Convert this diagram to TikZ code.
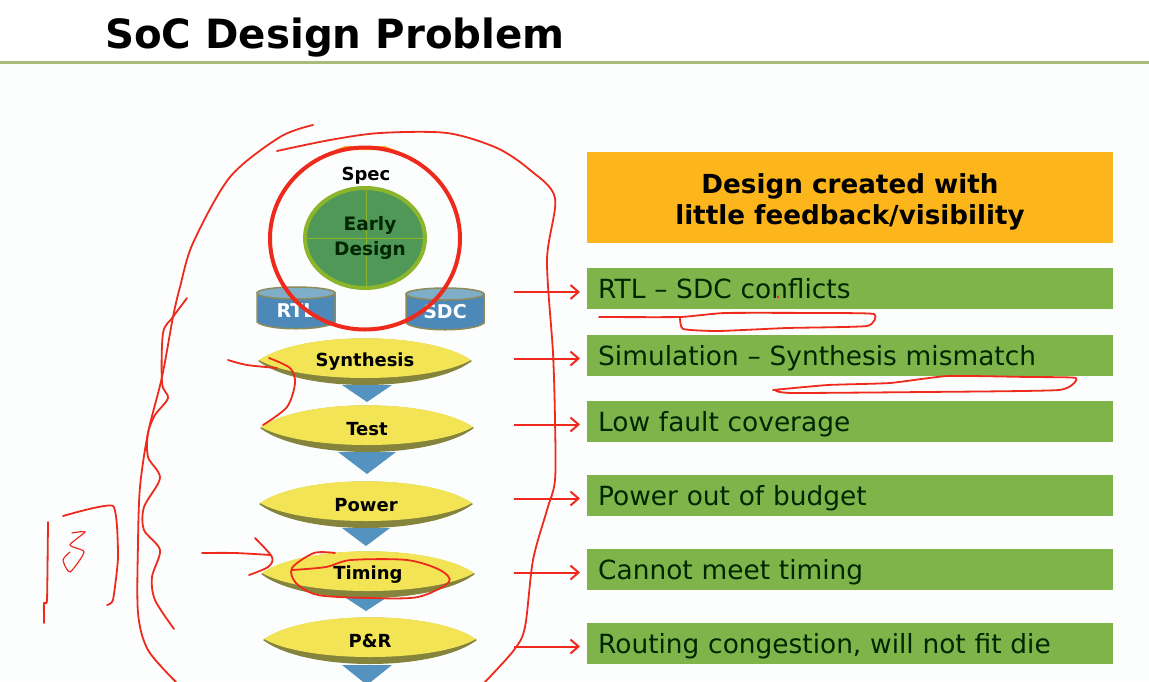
\documentclass[tikz,border=0pt]{standalone}
\usepackage{fontspec}
\setmainfont{DejaVu Sans}
\usetikzlibrary{arrows.meta}

\definecolor{pagetint}{HTML}{FCFEFD}
\definecolor{rulegreen}{HTML}{A9BC7C}
\definecolor{rowgreen}{HTML}{7FB44B}
\definecolor{bannerorange}{HTML}{FDB51C}
\definecolor{lensyellow}{HTML}{F3E455}
\definecolor{lensedge}{HTML}{85843C}
\definecolor{dropblue}{HTML}{5493BF}
\definecolor{canblue}{HTML}{4D89B8}
\definecolor{cantop}{HTML}{7FAEC8}
\definecolor{canedge}{HTML}{8D8A5C}
\definecolor{earlyfill}{HTML}{4F9858}
\definecolor{earlyedge}{HTML}{8DB52C}
\definecolor{inkred}{HTML}{EE2A1C}

\tikzset{
  rowbox/.style={fill=rowgreen, anchor=west, minimum height=41pt, text width=504pt,
    inner xsep=11pt, inner ysep=0pt, align=left, font=\fontsize{26.4}{30}\selectfont, text=black!85!green},
  stagelabel/.style={font=\bfseries\fontsize{18}{22}\selectfont, text=black},
  inkline/.style={draw=inkred, line width=1.8pt, line cap=round, line join=round},
  inkarrow/.style={draw=inkred, line width=2pt, -{Straight Barb[length=8pt,width=14pt]}, shorten >=7pt}
}

% lens with its olive lower rim and a label: name, x, y, half width, text
\newcommand{\stagelens}[5]{
  \fill[lensedge] (#2-#4,#3) .. controls (#2-#4*0.6,#3-30) and (#2+#4*0.6,#3-30) .. (#2+#4,#3)
    .. controls (#2+#4*0.6,#3+32) and (#2-#4*0.6,#3+32) .. (#2-#4,#3) -- cycle;
  \fill[lensyellow] (#2-#4+1,#3-1) .. controls (#2-#4*0.6,#3-30) and (#2+#4*0.6,#3-30) .. (#2+#4-1,#3-1)
    .. controls (#2+#4*0.6,#3+23) and (#2-#4*0.6,#3+23) .. (#2-#4+1,#3-1) -- cycle;
  \node[stagelabel] (#1) at (#2,#3+1) {#5};
}

% database can: name, left x, top y, text
\newcommand{\datacan}[4]{
  \draw[fill=canblue, draw=canedge, line width=1.5pt] (#2,#3+7) -- (#2,#3+36)
    .. controls (#2+10,#3+45) and (#2+68,#3+45) .. (#2+78,#3+36) -- (#2+78,#3+7) -- cycle;
  \draw[fill=cantop, draw=canedge, line width=1.5pt] (#2+39,#3+7) ellipse [x radius=39, y radius=6];
  \node[font=\bfseries\fontsize{19}{22}\selectfont, text=white] (#1) at (#2+39,#3+25) {#4};
}

\begin{document}
\begin{tikzpicture}[x=1pt, y=-1pt]
  \useasboundingbox (0,0) rectangle (1149,681);
  \fill[pagetint] (0,0) rectangle (1149,681);
  \fill[white] (0,0) rectangle (1149,61);

  % title and rule
  \node[anchor=base west, inner sep=0pt, font=\bfseries\fontsize{40.3}{46}\selectfont] (title) at (105,48) {SoC Design Problem};
  \draw[rulegreen, line width=3pt] (0,62) -- (1149,62);

  % banner
  \node[fill=bannerorange, minimum width=526pt, minimum height=91pt, inner sep=0pt, align=center,
    font=\bfseries\fontsize{26.2}{31}\selectfont] (banner) at (850,197.5) {\rule{0pt}{29pt}Design created with\\little feedback/visibility};

  % right hand rows and their arrows
  \foreach \rowname/\rowy/\rowtext in {rowRtl/288.5/{RTL – SDC conflicts},
      rowSim/355/{Simulation – Synthesis mismatch}, rowFault/421/{Low fault coverage},
      rowPower/495/{Power out of budget}, rowTiming/569/{Cannot meet timing},
      rowRoute/643/{Routing congestion, will not fit die}} {
    \node[rowbox] (\rowname) at (587,\rowy) {\rule[-6pt]{0pt}{32pt}\rowtext};
    \coordinate (from\rowname) at (514,\rowy+3.5);
    \draw[inkarrow] (from\rowname) -- (from\rowname -| \rowname.west);
  }

  % spec and early design
  \node[stagelabel] (spec) at (366,176) {Spec};
  \fill[bannerorange] (335,150) -- (395,150) -- (385,146) -- (345,146) -- cycle;
  \draw[fill=earlyfill, draw=earlyedge, line width=4pt] (365,238) ellipse [x radius=60, y radius=50];
  \draw[earlyedge, line width=0.8pt] (305,238) -- (425,238) (366,188) -- (366,288);
  \node[stagelabel, align=center, font=\fontsize{18.5}{25}\selectfont\bfseries, text=black!85!green] (early) at (370,238) {Early\\Design};

  \datacan{canRtl}{257}{286}{RTL}
  \datacan{canSdc}{406}{287}{SDC}

  % drops under the lenses
  \foreach \dropx/\droptop/\dropw/\droph in {367/385/25/17, 367/452/29/22, 366/528/24/18, 366/598/20/13, 367/665/25/20} {
    \fill[dropblue] (\dropx-\dropw,\droptop) -- (\dropx+\dropw,\droptop) -- (\dropx,\droptop+\droph) -- cycle;
  }

  \stagelens{lensSynth}{365}{361}{107}{Synthesis}
  \stagelens{lensTest}{367}{428}{107}{Test}
  \stagelens{lensPower}{366}{504}{107}{Power}
  \stagelens{lensTiming}{368}{574}{107}{Timing}
  \stagelens{lensRoute}{370}{640}{107}{P\&R}

  % pen strokes on top
  \draw[inkred, line width=4pt] (365,238.5) ellipse [x radius=95, y radius=91];
  \draw[inkline] plot[smooth] coordinates {(277,151) (330,140) (380,133) (447,133) (497,148) (530,170) (555,198)
    (547,260) (553,353) (555,420) (555,480) (547,510) (533,560) (525,627) (514,650) (485,682)};
  \draw[inkline] plot[smooth] coordinates {(313,125) (280,137) (230,177) (193,243) (180,287) (173,317) (162,377)
    (148,433) (140,487) (138,543) (138,613) (148,650) (176,682)};
  \draw[inkline] plot[smooth, tension=0.5] coordinates {(187,298) (173,317) (163,333) (162,383) (168,398) (155,415)
    (148,433) (148,457) (160,478) (144,507) (144,530) (160,550) (152,577) (155,600) (174,629)};
  \draw[inkline] plot[smooth] coordinates {(228,360) (247,365) (277,368)};
  \draw[inkline] plot[smooth] coordinates {(269,358) (290,368) (295,383) (287,407) (263,425)};
  \draw[inkline] plot[smooth] coordinates {(202,553) (235,553) (270,555)};
  \draw[inkline] plot[smooth] coordinates {(255,538) (272,557) (268,567) (249,575)};
  \draw[inkline] plot[smooth] coordinates {(335,553) (314,553) (292,568) (296,583) (318,595) (370,598) (418,597)
    (449,582) (440,570) (407,560) (351,560) (326,567) (292,570)};
  \draw[inkline] plot[smooth, tension=0.3] coordinates {(48,522) (47,600) (44,603) (44,623)};
  \draw[inkline] plot[smooth, tension=0.3] coordinates {(63,516) (113,506) (118,557) (113,600) (107,605)};
  \draw[inkline, line width=1.2pt] plot[smooth, tension=0.4] coordinates {(72,533) (85,532) (70,545) (84,552) (70,572) (63,560) (70,552)};
  \draw[inkline] plot[smooth, tension=0.3] coordinates {(599,317) (680,317) (725,313) (821,313) (874,314) (867,326)
    (787,328) (718,331) (683,329) (680,317)};
  \draw[inkline] plot[smooth, tension=0.3] coordinates {(773,390) (828,385) (890,383) (948,376) (1028,377) (1076,378)
    (1059,390) (924,392) (793,393) (776,391)};
  \fill[inkred] (778,297) circle (1.5);
\end{tikzpicture}
\end{document}
